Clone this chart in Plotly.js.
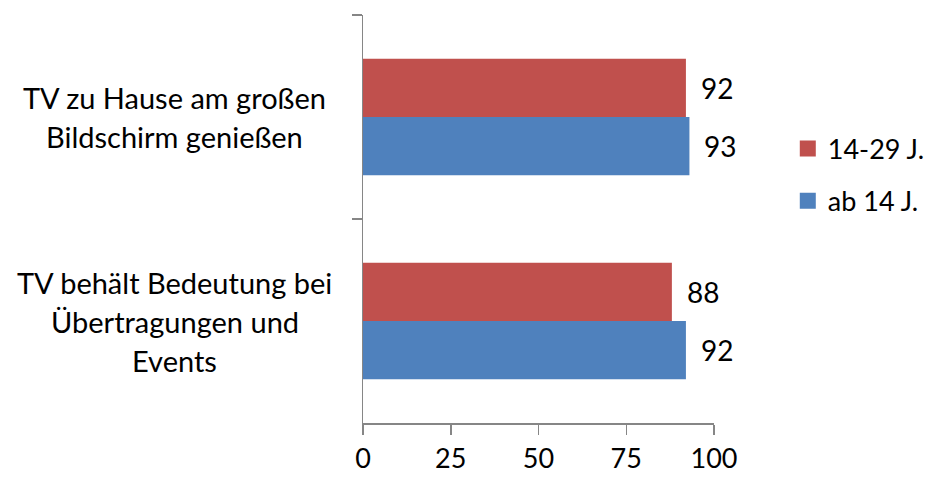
<!DOCTYPE html>
<html>
<head>
<meta charset="utf-8">
<script src="https://cdn.plot.ly/plotly-3.0.1.min.js"></script>
<style>html,body{margin:0;padding:0;background:#fff;}#chart{width:929px;height:477px;}</style>
</head>
<body>
<div id="chart"></div>
<script>
const categories = ["TV zu Hause am großen Bildschirm genießen", "TV behält Bedeutung bei Übertragungen und Events"];
const categoryLines = [["TV zu Hause am großen", "Bildschirm genießen"], ["TV behält Bedeutung bei", "Übertragungen und", "Events"]];
const seriesNames = ["14-29 J.", "ab 14 J."];
const values1429 = [92, 88];
const valuesAb14 = [93, 92];
const xTickVals = [0, 25, 50, 75, 100];

const FONT = "Lato, 'Open Sans', sans-serif";
const red = "#C0504D", blue = "#4F81BD", axisGray = "#868686";
const colors = [red, blue];
const seriesValues = [values1429, valuesAb14];

const traces = [];
seriesValues.forEach((vals, si) => {
  traces.push({type: "bar", orientation: "h", name: seriesNames[si], y: categories, x: vals,
    marker: {color: colors[si]}, legendgroup: "g" + si, showlegend: false, hoverinfo: "x"});
});
// legend entries with larger square swatches
seriesValues.forEach((vals, si) => {
  traces.push({type: "scatter", mode: "markers", name: seriesNames[si], x: [null], y: [null],
    marker: {symbol: "square", size: 17, color: colors[si]}, legendgroup: "g" + si, showlegend: true, hoverinfo: "skip"});
});

const annotations = [];
categories.forEach((c, ci) => {
  const lines = categoryLines[ci];
  const n = lines.length;
  lines.forEach((ln, i) => {
    annotations.push({xref: "paper", yref: "y", x: -0.536, y: c, text: ln, showarrow: false,
      xanchor: "center", yanchor: "middle", yshift: ((n - 1) / 2 - i) * 39,
      font: {family: FONT, size: 29, color: "#000"}});
  });
});
seriesValues.forEach((vals, si) => {
  vals.forEach((v, ci) => {
    annotations.push({xref: "x", yref: "y", x: v, y: categories[ci], text: String(v), showarrow: false,
      xanchor: "left", yanchor: "middle", xshift: 13, yshift: si === 0 ? 29 : -29,
      font: {family: FONT, size: 28, color: "#000"}});
  });
});

const layout = {
  width: 929, height: 477,
  margin: {l: 363, r: 215, t: 15, b: 54, pad: 0, autoexpand: false},
  paper_bgcolor: "#fff", plot_bgcolor: "#fff",
  barmode: "group", bargap: 0.43, bargroupgap: 0,
  font: {family: FONT, size: 28, color: "#000"},
  showlegend: true,
  legend: {xref: "container", yref: "container", x: 0.848, xanchor: "left", y: 0.633, yanchor: "middle",
    traceorder: "grouped", tracegroupgap: 14, font: {family: FONT, size: 27, color: "#000"},
    bgcolor: "rgba(0,0,0,0)", itemsizing: "trace"},
  xaxis: {range: [0, 100], tickvals: xTickVals, ticks: "outside", ticklen: 10, tickwidth: 1.5,
    tickcolor: axisGray, showline: true, linecolor: axisGray, linewidth: 1.5, showgrid: false,
    zeroline: false, fixedrange: true, ticklabelstandoff: 1, tickfont: {family: FONT, size: 27, color: "#000"}},
  yaxis: {type: "category", autorange: "reversed", tickson: "boundaries", ticks: "outside",
    ticklen: 10, tickwidth: 1.5, tickcolor: axisGray, showline: true, linecolor: axisGray,
    linewidth: 1.5, showgrid: false, zeroline: false, showticklabels: false, fixedrange: true},
  annotations: annotations
};

Plotly.newPlot("chart", traces, layout, {displayModeBar: false, staticPlot: true});
</script>
</body>
</html>
